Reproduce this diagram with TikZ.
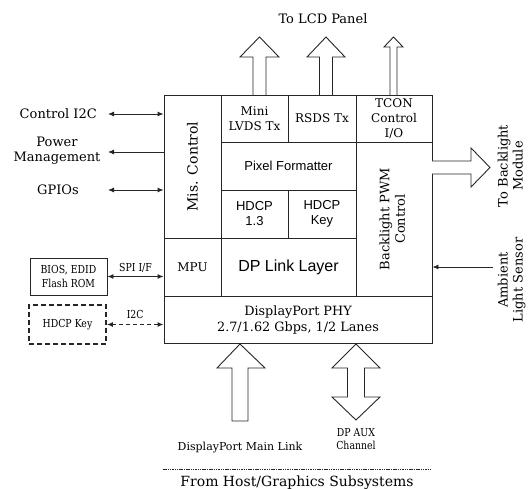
\documentclass[tikz,border=0pt]{standalone}
\usepackage{fontspec}
\setmainfont{DejaVu Serif}
\newfontfamily\sansf{Liberation Sans}
\newfontfamily\condf[FakeStretch=0.85]{DejaVu Serif}
\usetikzlibrary{arrows.meta}
\tikzset{
  box/.style={draw=black!85, line width=0.9pt, inner sep=0pt, align=center, font=\fontsize{12}{15}\selectfont},
  sbox/.style={box, font=\sansf\fontsize{13}{15}\selectfont},
  lbl/.style={inner sep=0pt, align=center, font=\fontsize{13}{15}\selectfont},
  slbl/.style={inner sep=0pt, align=center, font=\condf\fontsize{11}{13}\selectfont},
  conn/.style={draw=black!85, line width=0.9pt},
  tip/.style={-{Latex[length=6pt,width=5pt]}},
  btip/.style={{Latex[length=6pt,width=5pt]}-{Latex[length=6pt,width=5pt]}},
  barrow/.style={draw=black!85, line width=0.9pt, fill=white, line join=miter}
}
\begin{document}
\begin{tikzpicture}[x=1pt,y=-1pt]
\useasboundingbox (0,0) rectangle (528,489);
% ---------- main blocks
\node[box, minimum width=57pt, minimum height=143pt, font=\fontsize{14}{16}\selectfont] (misc) at (192.5,166.5) {\rotatebox{90}{Mis. Control}};
\node[box, minimum width=67pt, minimum height=47pt] (lvds) at (254.5,118.5) {Mini\\LVDS Tx};
\node[box, minimum width=68pt, minimum height=47pt] (rsds) at (322,118.5) {RSDS Tx};
\node[box, minimum width=76pt, minimum height=47pt] (tcon) at (394,118.5) {TCON\\Control\\I/O};
\node[sbox, minimum width=135pt, minimum height=48pt] (pix) at (288.5,166) {Pixel Formatter};
\node[sbox, minimum width=67pt, minimum height=48pt] (hd13) at (254.5,214) {HDCP\\1.3};
\node[sbox, minimum width=68pt, minimum height=48pt] (hkey) at (322,214) {HDCP\\Key};
\node[box, minimum width=76pt, minimum height=154pt, font=\fontsize{13}{15.5}\selectfont] (bl) at (394,219) {\rotatebox{90}{\begin{tabular}{@{}c@{}}Backlight PWM\\Control\end{tabular}}};
\node[box, minimum width=57pt, minimum height=58pt] (mpu) at (192.5,267) {MPU};
\node[sbox, minimum width=135pt, minimum height=58pt, font=\sansf\fontsize{16}{18}\selectfont] (link) at (288.5,267) {DP Link Layer};
\node[box, minimum width=268pt, minimum height=47pt, font=\fontsize{12.8}{16}\selectfont] (phy) at (298,319.5) {DisplayPort PHY\\2.7/1.62 Gbps, 1/2 Lanes};
% ---------- top arrows
\node[lbl] (lcd) at (323,19) {To LCD Panel};
\path[barrow] (253,95) -- (253,57) -- (240,57) -- (259.5,37) -- (279,57) -- (266,57) -- (266,95);
\path[barrow] (319.5,95) -- (319.5,57) -- (307,57) -- (326,37) -- (345,57) -- (332.5,57) -- (332.5,95);
\path[barrow] (390,95) -- (390,47) -- (384,47) -- (393.5,37) -- (403,47) -- (397,47) -- (397,95);
% ---------- left side
\node[lbl, anchor=east] (ctl) at (97,114) {Control I2C};
\draw[conn, btip] ([xshift=11pt]ctl.east) -- (ctl.east -| misc.west);
\node[lbl] (pwr) at (57,151) {Power\\Management};
\coordinate (pwrc) at (108,152);
\draw[conn, tip] (pwrc -| misc.west) -- (pwrc);
\node[lbl] (gpio) at (58,190) {GPIOs};
\coordinate (gpioc) at (108,190);
\draw[conn, btip] (gpioc) -- (gpioc -| misc.west);
\node[box, font=\condf\fontsize{11}{14}\selectfont, minimum width=77pt, minimum height=37pt] (bios) at (68.5,276.5) {BIOS, EDID\\Flash ROM};
\draw[conn, btip] (bios.east) -- (bios.east -| mpu.west) node[midway, above=4pt, slbl] (spi) {SPI I/F};
\node[box, dashed, dash pattern=on 5pt off 3pt, line width=1.6pt, font=\condf\fontsize{11}{14}\selectfont, minimum width=77pt, minimum height=39pt] (hdk) at (67.5,324.5) {HDCP Key};
\draw[conn, btip, dashed, dash pattern=on 4pt off 3pt, line width=1.4pt] (hdk.east) -- (hdk.east -| phy.west) node[midway, above=5pt, slbl] (i2c) {I2C};
% ---------- right side
\path[barrow] (432,161) -- (471,161) -- (471,148) -- (490,167.5) -- (471,187) -- (471,174) -- (432,174);
\node[lbl] (tobl) at (512,166) {\rotatebox{90}{\begin{tabular}{@{}c@{}}To Backlight\\Module\end{tabular}}};
\node[lbl] (amb) at (512,280) {\rotatebox{90}{\begin{tabular}{@{}c@{}}Ambient\\Light Sensor\end{tabular}}};
\coordinate (ambc) at (493,267);
\draw[conn, tip] (ambc) -- (ambc -| bl.east);
% ---------- bottom arrows
\path[barrow] (232,421) -- (232,368) -- (217,368) -- (240,344) -- (265,368) -- (248,368) -- (248,421) -- cycle;
\path[barrow] (347.5,368) -- (332,368) -- (356,344) -- (380,368) -- (364.5,368) -- (364.5,397) -- (380,397) -- (356,420) -- (332,397) -- (347.5,397) -- cycle;
\node[lbl, font=\fontsize{11}{13}\selectfont] (main) at (240,448) {DisplayPort Main Link};
\node[slbl, font=\condf\fontsize{11}{12.5}\selectfont] (aux) at (356,439) {DP AUX\\Channel};
\coordinate (dl) at (163,469);
\coordinate (dr) at (432,469);
\draw[draw=black!85, line width=0.7pt, dash pattern=on 1.5pt off 0.8pt] (dl) -- (dr);
\node[lbl, font=\fontsize{14}{16}\selectfont] (host) at (297,483) {From Host/Graphics Subsystems};
\end{tikzpicture}
\end{document}
